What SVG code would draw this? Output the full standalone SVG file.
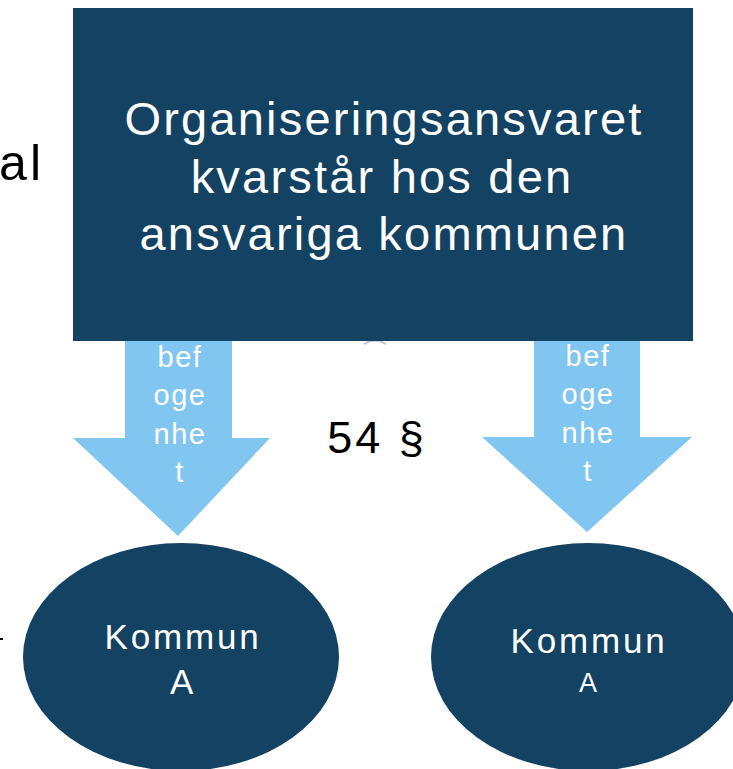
<svg xmlns="http://www.w3.org/2000/svg" width="733" height="769" viewBox="0 0 733 769">
<style>
.navy{fill:#134263}
.arrow{fill:#80C6F0}
.wt{fill:#ffffff;font-family:"Liberation Sans",Arial,sans-serif;text-anchor:middle}
.bt{fill:#000000;font-family:"Liberation Sans",Arial,sans-serif}
</style>
<rect width="733" height="769" fill="#ffffff"/>
<text class="bt" x="44" y="180" font-size="50" text-anchor="end" letter-spacing="3">al</text>
<rect x="0" y="638" width="3" height="2" fill="#000000"/>
<g id="connectors">
  <g id="arrow-left">
    <polygon class="arrow" points="125,335 232,335 232,438 270,438 178,536 73,438 125,438"/>
    <text class="wt" font-size="29" letter-spacing="1.5"><tspan x="180" y="367">bef</tspan><tspan x="180" y="405">oge</tspan><tspan x="180" y="444">nhe</tspan><tspan x="180" y="482">t</tspan></text>
  </g>
  <g id="arrow-right">
    <polygon class="arrow" points="534,335 640,335 640,437 692,437 587,532 482,437 534,437"/>
    <text class="wt" font-size="29" letter-spacing="1.5"><tspan x="588" y="366">bef</tspan><tspan x="588" y="404">oge</tspan><tspan x="588" y="443">nhe</tspan><tspan x="588" y="481">t</tspan></text>
  </g>
</g>
<path d="M364,344 Q375,337 386,344" fill="none" stroke="#b8c4d0" stroke-width="2"/>
<g id="box-top">
  <rect class="navy" x="73" y="8" width="620" height="333"/>
  <text class="wt" font-size="47" letter-spacing="2.2"><tspan x="384" y="135">Organiseringsansvaret</tspan><tspan x="382" y="193">kvarstår hos den</tspan><tspan x="384" y="250">ansvariga kommunen</tspan></text>
</g>
<text id="label-54" class="bt" x="377" y="453" font-size="45" text-anchor="middle" letter-spacing="3">54 §</text>
<g id="node-left">
  <ellipse class="navy" cx="181" cy="657" rx="158" ry="114"/>
  <text class="wt" font-size="35" letter-spacing="2.8"><tspan x="183" y="649">Kommun</tspan><tspan x="183" y="694">A</tspan></text>
</g>
<g id="node-right">
  <ellipse class="navy" cx="588" cy="657" rx="157" ry="114"/>
  <text class="wt" font-size="35" letter-spacing="2.8"><tspan x="589" y="653">Kommun</tspan></text>
  <text class="wt" font-size="27" x="588" y="692">A</text>
</g>
</svg>
